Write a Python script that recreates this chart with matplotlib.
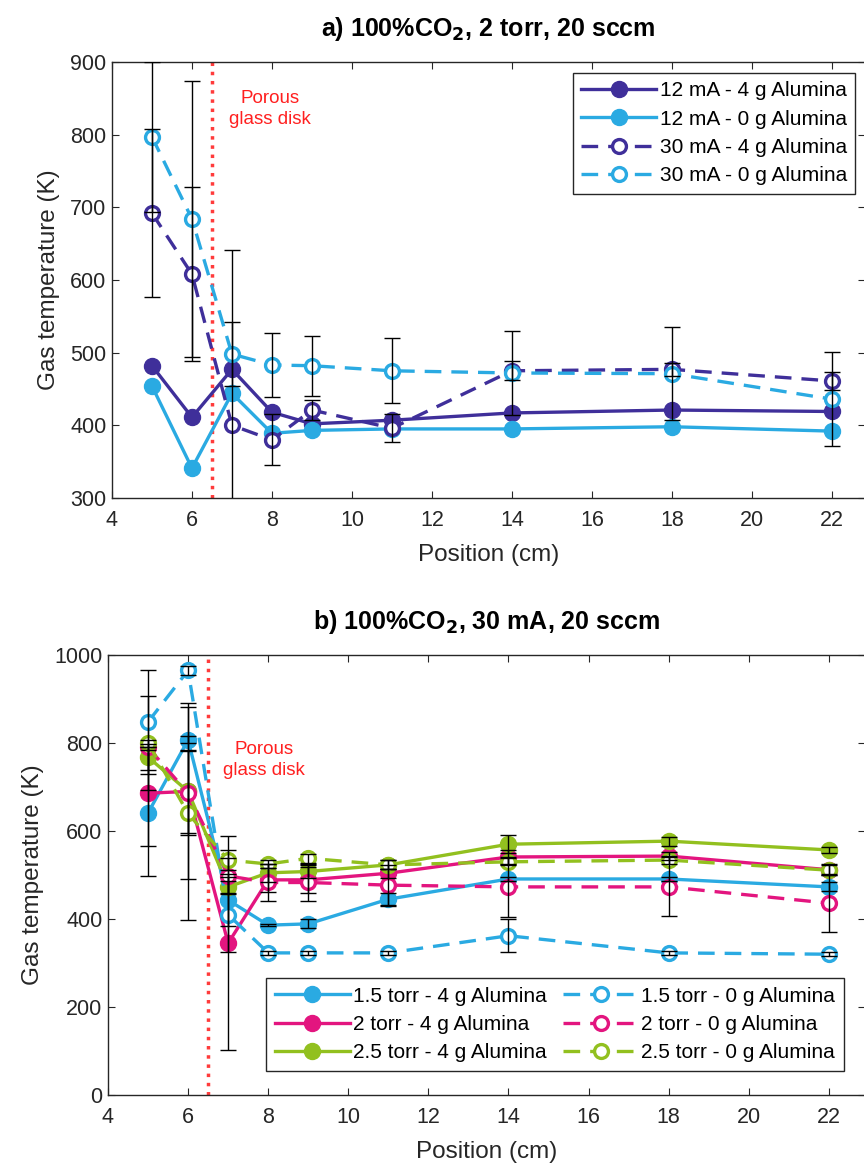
import matplotlib
matplotlib.use("Agg")
import matplotlib.pyplot as plt

plt.rcParams['font.family'] = ['Liberation Sans', 'DejaVu Sans']

pos = [5, 6, 7, 8, 9, 11, 14, 18, 22]

# panel a) 100% CO2, 2 torr
a_12mA_4g = [482, 411, 477, 418, 402, 407, 417, 421, 419]
a_12mA_0g = [454, 341, 444, 389, 393, 395, 395, 398, 392]
a_30mA_4g = [692, 608, 400, 380, 421, 396, 475, 477, 461]
a_30mA_0g = [797, 684, 498, 483, 482, 475, 472, 471, 436]
a_err_30mA_4g = [116, 120, 241, 35, 14, 19, 13, 9, 13]
a_err_30mA_0g = [103, 190, 44, 44, 41, 45, 58, 64, 65]
a_labels = ['12 mA - 4 g Alumina', '12 mA - 0 g Alumina',
            '30 mA - 4 g Alumina', '30 mA - 0 g Alumina']

# panel b) 100% CO2, 30 mA
b_15_4g = [641, 807, 443, 386, 389, 445, 491, 491, 473]
b_15_0g = [848, 965, 410, 323, 323, 323, 362, 323, 320]
b_2_4g = [686, 690, 345, 489, 489, 504, 541, 543, 512]
b_2_0g = [790, 686, 498, 483, 483, 477, 473, 473, 436]
b_25_4g = [768, 690, 473, 505, 508, 523, 570, 577, 557]
b_25_0g = [800, 640, 534, 525, 538, 523, 530, 534, 511]
b_err_15_4g = [143, 8, 59, 2, 10, 15, 5, 5, 10]
b_err_15_0g = [118, 10, 85, 5, 5, 5, 38, 5, 5]
b_err_2_4g = [120, 200, 243, 28, 30, 10, 15, 10, 12]
b_err_2_0g = [0, 95, 41, 42, 42, 45, 68, 67, 66]
b_err_25_4g = [30, 95, 14, 20, 15, 10, 20, 10, 7]
b_err_25_0g = [107, 243, 23, 10, 10, 10, 8, 10, 12]
b_labels = ['1.5 torr - 4 g Alumina', '2 torr - 4 g Alumina', '2.5 torr - 4 g Alumina',
            '1.5 torr - 0 g Alumina', '2 torr - 0 g Alumina', '2.5 torr - 0 g Alumina']

purple = '#3f2f9a'
blue = '#2aaae2'
pink = '#e3157f'
green = '#92c01f'
txt = '#262626'

fig = plt.figure(figsize=(8.64, 11.67), dpi=100)
ax1 = fig.add_axes([0.1296, 0.5733, 0.8715, 0.3736])
ax2 = fig.add_axes([0.125, 0.0617, 0.876, 0.377])


def solid(ax, y, c, lab):
    return ax.plot(pos, y, '-o', color=c, lw=2.4, ms=11.5, label=lab, zorder=3)[0]


def dashed(ax, y, c, lab):
    return ax.plot(pos, y, '--o', color=c, lw=2.4, ms=10, mfc='white', mew=2.4,
                   dashes=(5, 3), label=lab, zorder=3)[0]


def errs(ax, y, e):
    ax.errorbar(pos, y, yerr=e, fmt='none', ecolor='k', elinewidth=1,
                capsize=5.5, capthick=1, zorder=5)


def style(ax, xr, yl, yt):
    ax.set_xlim(4, xr)
    ax.set_ylim(*yl)
    ax.set_xticks(range(4, 23, 2))
    ax.set_yticks(yt)
    ax.tick_params(direction='in', top=True, right=True, labelsize=15.5,
                   colors=txt, length=5, width=0.8)
    ax.tick_params(axis='x', pad=9)
    ax.tick_params(axis='y', pad=4)
    for s in ax.spines.values():
        s.set_color(txt)
        s.set_linewidth(1)
    ax.set_xlabel('Position (cm)', fontsize=17.5, color=txt, labelpad=9)
    ax.set_ylabel('Gas temperature (K)', fontsize=17.5, color=txt, labelpad=7)
    ax.axvline(6.5, color='#ff3b3b', lw=2.5, ls=':', zorder=2)


def legend(ax, h, **kw):
    leg = ax.legend(handles=h, fontsize=15, handlelength=3.6, handletextpad=0.15,
                    labelspacing=0.45, borderpad=0.4, borderaxespad=0,
                    fancybox=False, edgecolor=txt, framealpha=1, **kw)
    leg.get_frame().set_linewidth(1)


# panel a
h = [solid(ax1, a_12mA_4g, purple, a_labels[0]),
     solid(ax1, a_12mA_0g, blue, a_labels[1]),
     dashed(ax1, a_30mA_4g, purple, a_labels[2]),
     dashed(ax1, a_30mA_0g, blue, a_labels[3])]
errs(ax1, a_30mA_4g, a_err_30mA_4g)
errs(ax1, a_30mA_0g, a_err_30mA_0g)
style(ax1, 22.83, (300, 900), range(300, 901, 100))
ax1.set_title(r'a) 100%CO$_\mathbf{2}$, 2 torr, 20 sccm', fontsize=18,
              fontweight='bold', pad=19)
ax1.text(7.95, 835, 'Porous\nglass disk', color='#ff2020', fontsize=13.5,
         ha='center', va='center', linespacing=1.3)
legend(ax1, h, loc='upper right', bbox_to_anchor=(0.987, 0.975))

# panel b
h = [solid(ax2, b_15_4g, blue, b_labels[0]),
     solid(ax2, b_2_4g, pink, b_labels[1]),
     solid(ax2, b_25_4g, green, b_labels[2]),
     dashed(ax2, b_15_0g, blue, b_labels[3]),
     dashed(ax2, b_2_0g, pink, b_labels[4]),
     dashed(ax2, b_25_0g, green, b_labels[5])]
for y, e in [(b_15_4g, b_err_15_4g), (b_15_0g, b_err_15_0g), (b_2_4g, b_err_2_4g),
             (b_2_0g, b_err_2_0g), (b_25_4g, b_err_25_4g), (b_25_0g, b_err_25_0g)]:
    errs(ax2, y, e)
style(ax2, 22.9, (0, 1000), range(0, 1001, 200))
ax2.set_title(r'b) 100%CO$_\mathbf{2}$, 30 mA, 20 sccm', fontsize=18,
              fontweight='bold', pad=19)
ax2.text(7.9, 762, 'Porous\nglass disk', color='#ff2020', fontsize=13.5,
         ha='center', va='center', linespacing=1.3)
legend(ax2, h, loc='lower right', ncol=2, bbox_to_anchor=(0.972, 0.055),
       columnspacing=0.8)

fig.savefig('out.png', dpi=100)
